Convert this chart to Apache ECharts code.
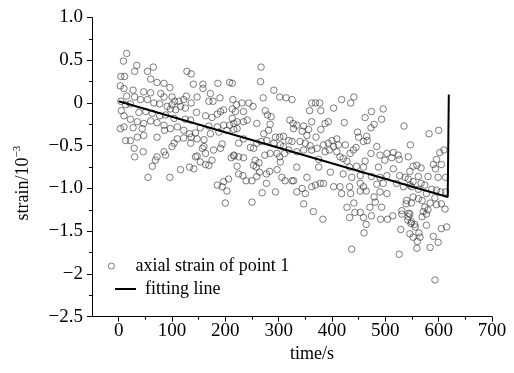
<!DOCTYPE html>
<html>
<head>
<meta charset="utf-8">
<script src="https://cdn.jsdelivr.net/npm/echarts@6/dist/echarts.min.js"></script>
<style>
	html, body { margin: 0; padding: 0; background: #fff; }
	#main { width: 514px; height: 373px; }
</style>
</head>
<body>
<div id="main"></div>
<script>
// measured strain, [time s, strain 10^-3]
var axialStrain = [
	[15,0.58],[9,0.49],[34,0.44],[65,0.42],[30,0.37],[54,0.37],[4,0.31],[11,0.31],[60,0.28],[72,0.24],
	[85,0.23],[3,0.2],[10,0.17],[96,0.18],[27,0.15],[47,0.13],[60,0.12],[79,0.11],[15,0.08],[30,0.07],
	[41,0.04],[54,0.04],[85,0.07],[100,0.07],[4,0.02],[13,-0.02],[22,-0.01],[66,0.0],[77,-0.01],[91,-0.04],
	[97,-0.07],[5,-0.09],[38,-0.11],[51,-0.1],[63,-0.12],[77,-0.15],[88,-0.14],[10,-0.15],[22,-0.19],[35,-0.22],
	[47,-0.24],[60,-0.21],[72,-0.23],[85,-0.26],[3,-0.3],[10,-0.28],[27,-0.29],[44,-0.3],[97,-0.3],[35,-0.4],
	[47,-0.38],[72,-0.4],[86,-0.32],[13,-0.44],[22,-0.44],[104,-0.47],[29,-0.53],[46,-0.57],[72,-0.63],[85,-0.57],
	[30,-0.63],[69,-0.67],[63,-0.74],[55,-0.87],[96,-0.87],[88,-0.61],[100,-0.51],
	[128,0.37],[136,0.34],[140,0.22],[158,0.22],[158,0.17],[186,0.23],[208,0.24],[172,0.11],[190,0.06],[177,0.02],
	[169,0.02],[147,0.07],[127,0.08],[136,0.0],[122,0.04],[113,0.02],[105,0.02],[100,-0.02],[116,-0.04],[125,-0.06],
	[107,-0.08],[146,-0.11],[163,-0.15],[175,-0.17],[185,-0.13],[197,-0.08],[191,-0.1],[213,-0.07],[214,0.04],[135,-0.2],
	[125,-0.19],[104,-0.18],[110,-0.28],[122,-0.32],[133,-0.36],[144,-0.35],[153,-0.29],[169,-0.27],[185,-0.28],[197,-0.26],
	[208,-0.26],[216,-0.24],[172,-0.36],[188,-0.34],[203,-0.32],[110,-0.42],[122,-0.41],[136,-0.4],[147,-0.42],[160,-0.43],
	[135,-0.47],[160,-0.51],[194,-0.48],[157,-0.53],[191,-0.53],[178,-0.55],[163,-0.59],[147,-0.62],[144,-0.63],[211,-0.64],
	[216,-0.62],[153,-0.69],[163,-0.72],[169,-0.73],[133,-0.75],[141,-0.77],[175,-0.67],[116,-0.78],[206,-0.89],[197,-0.92],
	[185,-0.96],[194,-0.98],[203,-1.03],[200,-1.17],
	[267,0.42],[266,0.25],[291,0.15],[302,0.07],[314,0.06],[325,0.04],[271,0.06],[213,0.23],[221,-0.02],[231,0.0],
	[244,0.0],[252,-0.04],[275,-0.09],[279,-0.14],[286,-0.16],[219,-0.1],[234,-0.1],[213,-0.18],[222,-0.22],[234,-0.22],
	[241,-0.2],[321,-0.2],[327,-0.24],[216,-0.31],[222,-0.3],[259,-0.24],[272,-0.36],[281,-0.32],[284,-0.25],[294,-0.4],
	[302,-0.4],[309,-0.39],[319,-0.44],[325,-0.45],[234,-0.42],[225,-0.47],[247,-0.52],[253,-0.53],[259,-0.47],[267,-0.45],
	[278,-0.44],[291,-0.47],[303,-0.49],[309,-0.51],[311,-0.59],[319,-0.55],[216,-0.61],[225,-0.63],[234,-0.64],[256,-0.67],
	[263,-0.7],[274,-0.61],[284,-0.59],[297,-0.59],[302,-0.63],[303,-0.69],[258,-0.75],[253,-0.73],[222,-0.74],[225,-0.83],
	[233,-0.85],[239,-0.91],[250,-0.91],[259,-0.86],[264,-0.81],[277,-0.83],[277,-0.94],[283,-0.8],[297,-0.78],[306,-0.87],
	[312,-0.91],[325,-0.91],[269,-1.05],[294,-1.04],[250,-1.16],
	[362,0.0],[369,0.0],[377,0.0],[358,-0.09],[379,-0.09],[403,-0.06],[418,0.04],[435,0.0],[441,0.07],[334,-0.26],
	[347,-0.27],[362,-0.22],[356,-0.31],[344,-0.33],[353,-0.38],[370,-0.4],[379,-0.31],[387,-0.24],[393,-0.22],[423,-0.23],
	[328,-0.3],[340,-0.45],[350,-0.47],[359,-0.5],[362,-0.55],[372,-0.53],[384,-0.49],[393,-0.47],[403,-0.51],[412,-0.49],
	[425,-0.49],[434,-0.59],[440,-0.55],[409,-0.42],[400,-0.44],[334,-0.57],[347,-0.55],[387,-0.57],[395,-0.55],[409,-0.57],
	[415,-0.63],[421,-0.65],[428,-0.68],[375,-0.66],[375,-0.75],[334,-0.75],[353,-0.87],[397,-0.81],[421,-0.83],[433,-0.75],
	[328,-0.91],[334,-1.04],[344,-1.0],[350,-1.06],[362,-0.98],[369,-0.96],[378,-0.94],[384,-0.94],[403,-0.98],[415,-0.98],
	[418,-1.06],[433,-0.98],[435,-1.06],[347,-1.18],[365,-1.27],[383,-1.36],[428,-1.22],[433,-1.34],[437,-1.71],
	[474,-0.1],[496,-0.07],[493,-0.19],[462,-0.17],[479,-0.25],[473,-0.29],[535,-0.27],[448,-0.34],[450,-0.4],[465,-0.39],
	[466,-0.44],[459,-0.45],[445,-0.52],[484,-0.51],[473,-0.59],[490,-0.61],[503,-0.59],[515,-0.58],[524,-0.61],[499,-0.67],
	[512,-0.64],[526,-0.66],[547,-0.49],[543,-0.63],[462,-0.68],[446,-0.74],[459,-0.75],[487,-0.75],[515,-0.77],[546,-0.8],
	[552,-0.74],[437,-0.87],[453,-0.85],[474,-0.86],[490,-0.87],[503,-0.85],[527,-0.85],[537,-0.87],[453,-0.94],[459,-0.98],
	[484,-0.95],[496,-0.94],[521,-0.94],[534,-0.98],[546,-0.96],[453,-1.03],[464,-1.03],[490,-1.04],[503,-1.06],[479,-1.1],
	[552,-1.1],[540,-1.14],[539,-1.18],[481,-1.16],[441,-1.17],[443,-1.28],[453,-1.28],[471,-1.22],[493,-1.22],[531,-1.26],
	[546,-1.3],[459,-1.34],[474,-1.32],[491,-1.36],[504,-1.36],[514,-1.32],[531,-1.3],[543,-1.33],[549,-1.39],[464,-1.42],
	[460,-1.52],[529,-1.48],[546,-1.53],[526,-1.77],[556,-1.45],
	[582,-0.36],[600,-0.32],[602,-0.58],[610,-0.55],[596,-0.66],[590,-0.72],[605,-0.72],[594,-0.77],[559,-0.73],[567,-0.76],
	[562,-0.86],[580,-0.86],[599,-0.87],[613,-0.87],[543,-0.89],[552,-0.92],[567,-0.94],[574,-0.96],[587,-1.01],[596,-1.02],
	[604,-1.04],[613,-1.04],[549,-0.98],[562,-1.01],[577,-1.06],[593,-1.11],[605,-1.18],[612,-1.24],[562,-1.12],[569,-1.14],
	[584,-1.17],[596,-1.19],[549,-1.17],[574,-1.22],[580,-1.25],[571,-1.27],[577,-1.3],[544,-1.29],[569,-1.33],[542,-1.37],
	[548,-1.41],[555,-1.42],[577,-1.43],[605,-1.47],[615,-1.45],[563,-1.52],[552,-1.57],[565,-1.57],[590,-1.56],[599,-1.63],
	[560,-1.62],[559,-1.7],[584,-1.69],[593,-2.07]
];
// fitting line, then the jump at the end
var fitLine = [[0, 0.02], [617, -1.1], [619, 0.1]];

var xMajorTicks = [0, 100, 200, 300, 400, 500, 600, 700];
var xMinorTicks = [50, 150, 250, 350, 450, 550, 650];
var yTickLabels = {
	'1': '1.0', '0.5': '0.5', '0': '0', '-0.5': '\u22120.5',
	'-1': '\u22121.0', '-1.5': '\u22121.5', '-2': '\u22122', '-2.5': '\u22122.5'
};

var serif = '"Liberation Serif", "Times New Roman", serif';
var scatterName = 'axial strain of point 1';
var lineName = 'fitting line';

var myChart = echarts.init(document.getElementById('main'));
var option = {
	animation: false,
	textStyle: { fontFamily: serif, color: '#000' },
	grid: { left: 92, right: 22, top: 17.5, bottom: 56.3, containLabel: false },
	legend: [{
		data: [{
			name: scatterName,
			icon: 'circle',
			itemStyle: { color: 'rgba(255,255,255,0)', borderColor: '#333', borderWidth: 0.8 }
		}],
		left: 103, top: 252,
		itemWidth: 20, itemHeight: 6,
		textStyle: { fontFamily: serif, fontSize: 18, color: '#000', padding: [0, 0, 0, 9] }
	}, {
		data: [{ name: lineName, icon: 'rect', itemStyle: { color: '#000' } }],
		left: 110, top: 275,
		itemWidth: 21, itemHeight: 2,
		textStyle: { fontFamily: serif, fontSize: 18, color: '#000', padding: [0, 0, 0, 4] }
	}],
	xAxis: [{
		type: 'value',
		min: -50, max: 700,
		name: 'time/s',
		nameLocation: 'middle',
		nameGap: 22,
		nameTextStyle: { fontFamily: serif, fontSize: 18, color: '#000', padding: [0, 0, 0, 40] },
		axisLine: { onZero: false, lineStyle: { color: '#000', width: 1 } },
		axisTick: { customValues: xMajorTicks, length: 5, lineStyle: { color: '#000' } },
		axisLabel: { customValues: xMajorTicks, fontFamily: serif, fontSize: 19, color: '#000', margin: 5 },
		splitLine: { show: false }
	}, {
		type: 'value',
		position: 'bottom',
		min: -50, max: 700,
		axisLine: { show: false, onZero: false },
		axisTick: { customValues: xMinorTicks, length: 3, lineStyle: { color: '#000' } },
		axisLabel: { show: false },
		splitLine: { show: false }
	}],
	yAxis: {
		type: 'value',
		min: -2.5, max: 1.0, interval: 0.5,
		name: '{a|strain/10}{b|\u22123}',
		nameLocation: 'middle',
		nameGap: 58,
		nameTextStyle: {
			padding: [0, 32, 0, 0],
			rich: {
				a: { fontFamily: serif, fontSize: 18, color: '#000', lineHeight: 22 },
				b: { fontFamily: serif, fontSize: 11, color: '#000', verticalAlign: 'top', lineHeight: 22 }
			}
		},
		axisLine: { show: true, onZero: false, lineStyle: { color: '#000', width: 1 } },
		axisTick: { show: true, length: 5, lineStyle: { color: '#000' } },
		minorTick: { show: true, splitNumber: 2, length: 3, lineStyle: { color: '#000' } },
		axisLabel: {
			fontFamily: serif, fontSize: 19, color: '#000', margin: 9,
			formatter: function(v) {
				var k = String(Math.round(v * 10) / 10);
				return yTickLabels[k] !== undefined ? yTickLabels[k] : k;
			}
		},
		splitLine: { show: false }
	},
	series: [{
		name: scatterName,
		type: 'scatter',
		data: axialStrain,
		symbol: 'circle',
		symbolSize: 6.5,
		itemStyle: { color: 'rgba(255,255,255,0)', borderColor: '#333', borderWidth: 0.8 },
		z: 2
	}, {
		name: lineName,
		type: 'line',
		data: fitLine,
		symbol: 'none',
		color: '#000',
		lineStyle: { color: '#000', width: 2 },
		z: 3
	}]
};
myChart.setOption(option);
</script>
</body>
</html>
